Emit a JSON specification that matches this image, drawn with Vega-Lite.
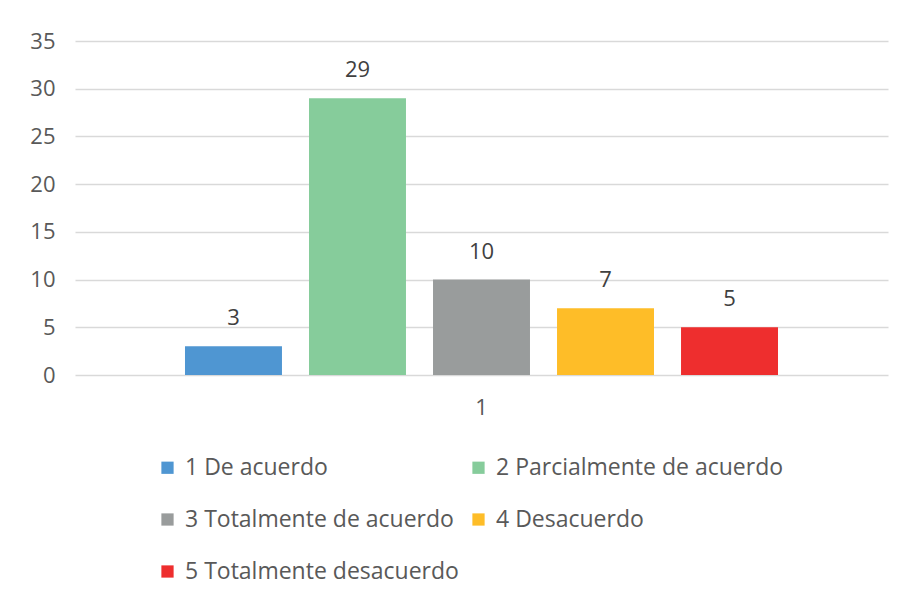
{
  "$schema": "https://vega.github.io/schema/vega-lite/v6.json",
  "autosize": {"type": "none"},
  "width": 813,
  "height": 334,
  "padding": {"left": 75, "top": 41, "right": 19, "bottom": 227},
  "background": "white",
  "config": {
    "view": {"stroke": null},
    "font": "Open Sans",
    "text": {"font": "Open Sans"}
  },
  "data": {
    "values": [
      {"grupo": "1", "serie": "1 De acuerdo", "valor": 3},
      {"grupo": "1", "serie": "2 Parcialmente de acuerdo", "valor": 29},
      {"grupo": "1", "serie": "3 Totalmente de acuerdo", "valor": 10},
      {"grupo": "1", "serie": "4 Desacuerdo", "valor": 7},
      {"grupo": "1", "serie": "5 Totalmente desacuerdo", "valor": 5}
    ]
  },
  "encoding": {
    "x": {
      "field": "grupo", "type": "nominal",
      "scale": {"paddingInner": 0, "paddingOuter": 0},
      "axis": {"title": null, "labelAngle": 0, "ticks": false, "domain": false, "labelFontSize": 22, "labelColor": "#595959", "labelPadding": 22, "labelFont": "Open Sans"}
    },
    "xOffset": {
      "field": "serie", "type": "nominal",
      "scale": {"paddingInner": 0.218, "paddingOuter": 0.887}
    },
    "y": {
      "field": "valor", "type": "quantitative",
      "scale": {"domain": [0, 35]},
      "axis": {"title": null, "values": [0, 5, 10, 15, 20, 25, 30, 35], "ticks": false, "domain": false, "grid": true, "gridColor": "#d9d9d9", "gridWidth": 1.5, "labelFontSize": 22, "labelColor": "#595959", "labelPadding": 20, "labelFont": "Open Sans"}
    }
  },
  "layer": [
    {
      "mark": {"type": "bar"},
      "encoding": {
        "color": {
          "field": "serie", "type": "nominal",
          "scale": {
            "domain": ["1 De acuerdo", "2 Parcialmente de acuerdo", "3 Totalmente de acuerdo", "4 Desacuerdo", "5 Totalmente desacuerdo"],
            "range": ["#4f96d2", "#86cc9b", "#999c9c", "#febd28", "#ee2e2e"]
          },
          "legend": {
            "title": null, "orient": "none", "legendX": 81, "legendY": 415,
            "direction": "horizontal",
            "columns": 2, "columnPadding": 8, "rowPadding": 28,
            "symbolType": "square", "symbolSize": 150, "symbolStrokeWidth": 0,
            "labelFontSize": 23, "labelColor": "#595959", "labelFont": "Open Sans", "labelOffset": 6, "labelLimit": 400
          }
        }
      }
    },
    {
      "mark": {"type": "text", "baseline": "bottom", "dy": -16, "fontSize": 22, "color": "#404040"},
      "encoding": {"text": {"field": "valor", "type": "quantitative"}}
    }
  ]
}
